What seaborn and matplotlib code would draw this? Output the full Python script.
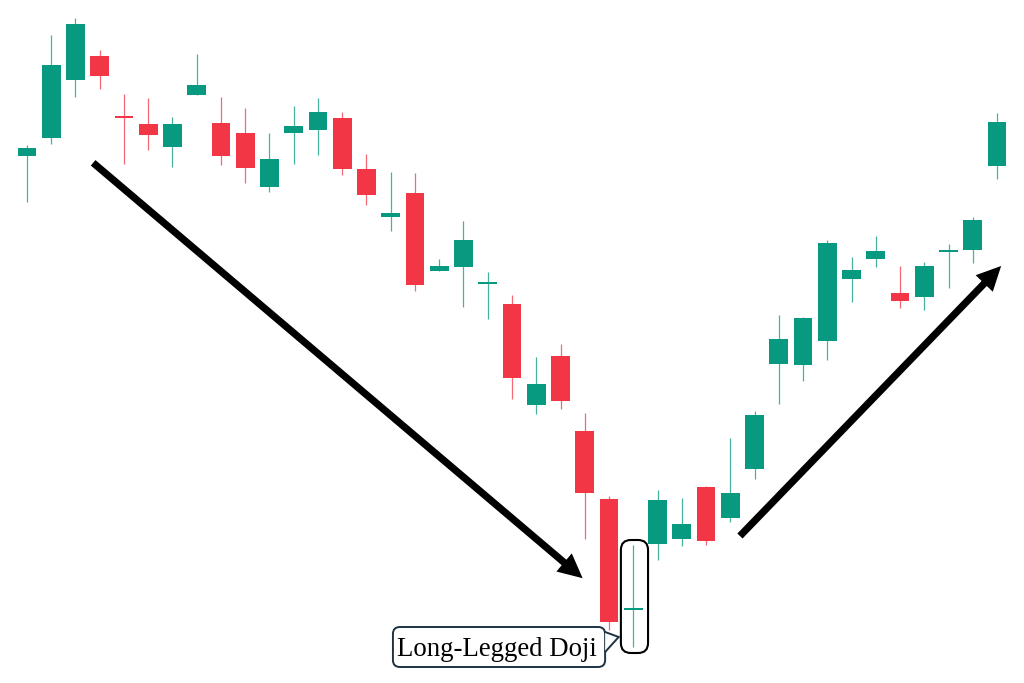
import numpy as np
import pandas as pd
import seaborn as sns
import matplotlib
matplotlib.use("Agg")
import matplotlib.pyplot as plt
from matplotlib.patches import FancyArrowPatch, FancyBboxPatch, Polygon

# OHLC (arbitrary price units)
opens = [527, 545, 603, 627, 567, 559, 536, 588, 560, 550,
         496, 550, 553, 565, 514, 466, 490, 412, 416, 399,
         379, 278, 327, 252, 184, 73, 139, 144, 196, 165,
         214, 319, 318, 342, 404, 424, 390, 386, 431, 433, 517]
closes = [535, 618, 659, 607, 565, 548, 559, 598, 527, 515,
          524, 557, 571, 514, 488, 470, 398, 417, 443, 401,
          305, 299, 282, 190, 61, 75, 183, 159, 142, 190,
          268, 344, 365, 440, 413, 432, 382, 417, 433, 463, 561]
highs = [538, 648, 665, 633, 589, 585, 566, 629, 586, 575,
         550, 577, 585, 571, 529, 511, 510, 424, 462, 411,
         388, 326, 339, 270, 187, 138, 193, 185, 197, 245,
         272, 368, 366, 443, 426, 447, 417, 421, 439, 466, 570]
lows = [481, 539, 586, 594, 519, 533, 516, 588, 518, 500,
        491, 519, 528, 508, 478, 452, 392, 412, 376, 364,
        284, 269, 274, 144, 53, 36, 123, 137, 138, 161,
        204, 279, 302, 323, 381, 416, 375, 373, 395, 420, 504]

df = pd.DataFrame({"open": opens, "close": closes, "high": highs, "low": lows})
df["idx"] = np.arange(len(df))
df["up"] = df["close"] >= df["open"]

GREEN = "#089981"
RED = "#F23645"

sns.set_theme(style="white")
fig = plt.figure(figsize=(10.24, 6.83), dpi=100)
ax = fig.add_axes([0, 0, 1, 1])
ax.set_axis_off()

colors = np.where(df["up"], GREEN, RED)

# wicks
ax.vlines(df["idx"], df["low"], df["high"], colors=colors, lw=0.9, alpha=0.75, zorder=1)

# bodies
bottom = df[["open", "close"]].min(axis=1)
height = (df["close"] - df["open"]).abs()
ax.bar(df["idx"], height, bottom=bottom, width=0.78, color=colors, linewidth=0, zorder=2)

ax.set_xlim(-1.113, 41.113)
ax.set_ylim(0, 683)

# trend arrows
for a, b in [((2.64, 522), (23.0, 103)), ((29.32, 145), (40.25, 419))]:
    arr = FancyArrowPatch(a, b, arrowstyle="-|>,head_length=0.45,head_width=0.22",
                          mutation_scale=20, lw=5.2, color="black",
                          joinstyle="miter", capstyle="butt", zorder=5)
    ax.add_patch(arr)

# highlight around the doji
asp = 24.25
doji = FancyBboxPatch((24.49, 30), 25.61 - 24.49, 113,
                      boxstyle="round,pad=0,rounding_size=%f" % (10 / asp),
                      mutation_aspect=asp, fc="none", ec="black", lw=1.5, zorder=4)
ax.add_patch(doji)

# callout bubble
bubble = FancyBboxPatch((15.09, 16), 23.84 - 15.09, 40,
                        boxstyle="round,pad=0,rounding_size=%f" % (7 / asp),
                        mutation_aspect=asp, fc="white", ec="#1c3344", lw=1.4, zorder=4)
ax.add_patch(bubble)
tail = [(23.84, 51), (24.40, 46), (23.84, 31)]
ax.add_patch(Polygon(tail, closed=True, fc="white", ec="none", zorder=4.5))
tx, ty = zip(*tail)
ax.plot(tx, ty, color="#1c3344", lw=1.4, zorder=4.6, solid_joinstyle="miter")
ax.text(19.38, 27, "Long-Legged Doji", family="Liberation Serif", fontsize=19.3,
        color="black", ha="center", va="baseline", zorder=6)

fig.savefig("out.png", dpi=100, facecolor="white")
